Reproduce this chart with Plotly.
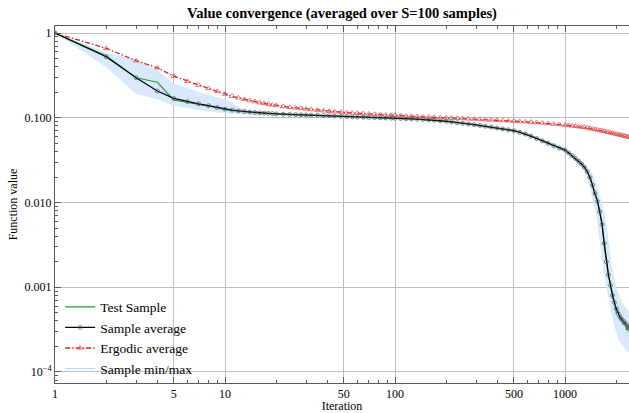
import plotly.graph_objects as go

# ---------------- data ----------------
iterations = [1, 2, 3, 4, 5, 6, 7, 8, 9, 10, 11, 12, 13, 14, 15, 16, 17, 18, 19, 20,
              22, 24, 26, 28, 30, 32, 35, 38, 41, 44, 48, 52, 56, 60, 65, 70, 76, 82, 88, 95,
              100, 108, 116, 125, 135, 146, 158, 170, 185, 200, 215, 232, 250, 270, 292, 316,
              340, 368, 398, 430, 464, 500, 540, 584, 630, 680, 735, 794, 857, 925, 1000,
              1050, 1100, 1150, 1200, 1250, 1300, 1350, 1400, 1450, 1500, 1550, 1600, 1650,
              1700, 1750, 1800, 1850, 1900, 1950, 2000, 2050, 2100, 2150, 2200, 2250, 2300,
              2350, 2400]

sample_average = [1.0, 0.525, 0.297, 0.207, 0.169, 0.155, 0.146, 0.139, 0.132, 0.126,
                  0.123, 0.1205, 0.1185, 0.117, 0.1155, 0.1145, 0.1135, 0.1125, 0.112, 0.111,
                  0.110, 0.1095, 0.109, 0.1085, 0.108, 0.1075, 0.107, 0.1065, 0.106, 0.105,
                  0.104, 0.103, 0.1025, 0.102, 0.1015, 0.101, 0.1005, 0.100, 0.0995, 0.099,
                  0.0985, 0.098, 0.0975, 0.097, 0.0962, 0.0955, 0.0945, 0.0935, 0.0922, 0.091,
                  0.0895, 0.0873, 0.086, 0.0845, 0.083, 0.0812, 0.0795, 0.0777, 0.0758, 0.0738,
                  0.072, 0.0703, 0.0675, 0.0642, 0.0607, 0.057, 0.0534, 0.050, 0.0467, 0.0438,
                  0.0416,
                  0.0385, 0.0357, 0.033, 0.0307, 0.0285, 0.026, 0.0232, 0.0197, 0.016, 0.0128,
                  0.0103, 0.0078, 0.0055, 0.0033, 0.0020, 0.0014, 0.00105, 0.0008, 0.00066,
                  0.00056, 0.00049, 0.00045, 0.00042, 0.0004, 0.00038, 0.00036, 0.00034, 0.00032]

test_sample = [1.0, 0.54, 0.297, 0.262, 0.162, 0.152, 0.144, 0.137, 0.131, 0.1245,
               0.1215, 0.119, 0.1175, 0.1162, 0.115, 0.114, 0.113, 0.1122, 0.1117, 0.1108,
               0.110, 0.1095, 0.109, 0.1085, 0.108, 0.1075, 0.107, 0.1065, 0.106, 0.105,
               0.104, 0.103, 0.1025, 0.102, 0.1015, 0.101, 0.1005, 0.100, 0.0995, 0.099,
               0.0985, 0.098, 0.0975, 0.097, 0.0962, 0.0955, 0.0945, 0.0935, 0.0922, 0.091,
               0.0895, 0.0873, 0.086, 0.0845, 0.083, 0.0812, 0.0795, 0.0777, 0.0758, 0.0738,
               0.072, 0.0703, 0.0675, 0.0642, 0.0607, 0.057, 0.0534, 0.050, 0.0467, 0.0438,
               0.0416,
               0.0385, 0.0357, 0.033, 0.0307, 0.0285, 0.026, 0.0232, 0.0197, 0.0165, 0.0125,
               0.0108, 0.0074, 0.0058, 0.0031, 0.0021, 0.00135, 0.0011, 0.00074, 0.0007,
               0.0005, 0.00052, 0.00041, 0.00044, 0.00036, 0.00039, 0.00031, 0.00034, 0.00028]

ergodic_average = [1.0, 0.66, 0.471, 0.389, 0.31, 0.27, 0.243, 0.222, 0.205, 0.19,
                   0.18, 0.172, 0.165, 0.16, 0.155, 0.151, 0.148, 0.145, 0.142, 0.14,
                   0.136, 0.133, 0.131, 0.129, 0.127, 0.125, 0.123, 0.121, 0.1195, 0.118,
                   0.1165, 0.115, 0.114, 0.113, 0.112, 0.111, 0.110, 0.1088, 0.1078, 0.107,
                   0.1065, 0.1058, 0.105, 0.1043, 0.1035, 0.1028, 0.102, 0.1012, 0.1005, 0.0998,
                   0.0992, 0.0986, 0.098, 0.0972, 0.0965, 0.0958, 0.095, 0.0943, 0.0935, 0.0928,
                   0.092, 0.0913, 0.0905, 0.0897, 0.0888, 0.0879, 0.0868, 0.0857, 0.0845, 0.0833,
                   0.082,
                   0.0812, 0.0804, 0.0796, 0.0788, 0.078, 0.0772, 0.0764, 0.0748, 0.0739, 0.073,
                   0.0721, 0.0712, 0.0703, 0.0694, 0.0685, 0.0676, 0.0667, 0.0659, 0.0651,
                   0.0643, 0.0636, 0.0629, 0.0622, 0.0615, 0.0608, 0.0602, 0.0596, 0.059]

band_iter = [1, 2, 3, 4, 5, 6, 7, 8, 9, 10, 11, 12, 13, 14,
             16, 18, 20, 25, 30, 40, 50, 70,
             100, 150, 200, 300, 400, 500, 600, 700, 800, 900, 1000,
             1100, 1200, 1300, 1400,
             1450, 1500, 1550, 1600, 1650, 1700, 1750, 1800, 1850, 1900, 1950, 2000,
             2100, 2200, 2300, 2400]

band_max = [1.0, 0.58, 0.48, 0.36, 0.25, 0.22, 0.20, 0.185, 0.172, 0.162, 0.148, 0.132, 0.124, 0.12,
            0.117, 0.1148, 0.1137, 0.1115, 0.1105, 0.1085, 0.1055, 0.1035,
            0.101, 0.0978, 0.0935, 0.085, 0.078, 0.0725, 0.0655, 0.058, 0.052, 0.047, 0.0437,
            0.0378, 0.0325, 0.0285, 0.0232,
            0.0215, 0.018, 0.0148, 0.012, 0.0096, 0.0073, 0.0051, 0.0033, 0.0021, 0.0015, 0.0012, 0.00095,
            0.00075, 0.00062, 0.00055, 0.0005]

band_min = [1.0, 0.40, 0.194, 0.166, 0.141, 0.131, 0.124, 0.119, 0.116, 0.114, 0.1125, 0.1115, 0.111, 0.1105,
            0.1095, 0.1085, 0.1078, 0.1065, 0.1055, 0.103, 0.1005, 0.0985,
            0.096, 0.0932, 0.0885, 0.08, 0.0733, 0.068, 0.0605, 0.0535, 0.0475, 0.0427, 0.0395,
            0.0337, 0.029, 0.0235, 0.0165,
            0.0113, 0.0087, 0.0062, 0.0037, 0.0022, 0.00145, 0.00105, 0.00075, 0.0006, 0.00045, 0.00035, 0.0003,
            0.00023, 0.0002, 0.00018, 0.00017]

x_tick_vals = [1, 5, 10, 50, 100, 500, 1000]
x_tick_text = ["1", "5", "10", "50", "100", "500", "1000"]
x_minor_vals = [2, 3, 4, 6, 7, 8, 9, 20, 30, 40, 60, 70, 80, 90,
                200, 300, 400, 600, 700, 800, 900, 2000]
y_tick_vals = [1, 0.1, 0.01, 0.001, 0.0001]
y_tick_text = ["1", "0.100", "0.010", "0.001", "10<sup>\u22124</sup>"]
y_minor_vals = [m * 10.0 ** e for e in (-5, -4, -3, -2, -1) for m in range(2, 10)]

# ---------------- styles ----------------
FONT = "Liberation Serif"
BAND = "rgb(216,233,252)"
BAND_EDGE = "rgb(205,226,250)"
RED = "rgb(205,40,40)"
GREEN = "rgb(40,150,60)"
GRID = "rgb(190,190,190)"
AXIS = "rgb(90,90,90)"

fig = go.Figure()

fig.add_trace(go.Scatter(x=band_iter, y=band_max, mode="lines",
                         line=dict(width=0.5, color=BAND_EDGE),
                         showlegend=False, hoverinfo="skip"))
fig.add_trace(go.Scatter(x=band_iter, y=band_min, mode="lines", fill="tonexty",
                         fillcolor=BAND, line=dict(width=0.5, color=BAND_EDGE),
                         showlegend=False, hoverinfo="skip"))

fig.add_trace(go.Scatter(x=iterations, y=ergodic_average, mode="lines+markers",
                         name="Ergodic average", legendrank=3,
                         line=dict(color=RED, width=1.3, dash="5px,2px,1.5px,2px"),
                         marker=dict(symbol="triangle-up-open", size=5,
                                     color="rgb(225,90,90)", line=dict(width=0.8))))

fig.add_trace(go.Scatter(x=iterations, y=test_sample, mode="lines",
                         name="Test Sample", legendrank=1,
                         line=dict(color=GREEN, width=1.1)))

fig.add_trace(go.Scatter(x=iterations, y=sample_average, mode="lines+markers",
                         name="Sample average", legendrank=2,
                         line=dict(color="black", width=1.3),
                         marker=dict(symbol="circle-open", size=4,
                                     color="rgb(95,105,110)", line=dict(width=0.8))))

# legend entry for the min/max band (thin pale line, as in the reference)
fig.add_trace(go.Scatter(x=band_iter[:1], y=band_max[:1], mode="lines",
                         name="Sample min/max", legendrank=4,
                         line=dict(color="rgb(190,215,245)", width=1),
                         hoverinfo="skip"))

fig.update_layout(
    width=629, height=413,
    margin=dict(l=55, r=0, t=26, b=30),
    paper_bgcolor="white", plot_bgcolor="white",
    font=dict(family=FONT, size=12, color="black"),
    title=dict(text="<b>Value convergence (averaged over S=100 samples)</b>",
               x=0.5, xref="paper", xanchor="center",
               y=1 - 13 / 413, yref="container", yanchor="middle",
               font=dict(family=FONT, size=14.5, color="black")),
    showlegend=True,
    legend=dict(x=0.009, y=0.256, xanchor="left", yanchor="top",
                traceorder="normal", itemclick=False, itemdoubleclick=False,
                bgcolor="rgba(0,0,0,0)", borderwidth=0,
                font=dict(family=FONT, size=13.5, color="black")),
    hovermode=False,
)

fig.update_xaxes(
    type="log", range=[0, 3.376],
    tickmode="array", tickvals=x_tick_vals, ticktext=x_tick_text,
    ticks="inside", ticklen=6, tickwidth=1, tickcolor=AXIS,
    showline=True, linecolor=AXIS, linewidth=1, mirror="ticks",
    showgrid=True, gridcolor=GRID, gridwidth=1,
    zeroline=False,
    tickfont=dict(family=FONT, size=12),
    title=dict(text="Iteration", font=dict(family=FONT, size=12), standoff=3),
    minor=dict(tickmode="array", tickvals=x_minor_vals, ticks="inside",
               ticklen=3, tickcolor=AXIS, showgrid=False),
)

fig.update_yaxes(
    type="log", range=[-4.13, 0.083],
    tickmode="array", tickvals=y_tick_vals, ticktext=y_tick_text,
    ticks="inside", ticklen=6, tickwidth=1, tickcolor=AXIS,
    showline=True, linecolor=AXIS, linewidth=1, mirror=False,
    showgrid=True, gridcolor=GRID, gridwidth=1,
    zeroline=False,
    tickfont=dict(family=FONT, size=12),
    title=dict(text="Function value", font=dict(family=FONT, size=12), standoff=4),
    minor=dict(tickmode="array", tickvals=y_minor_vals, ticks="inside",
               ticklen=3, tickcolor=AXIS, showgrid=False),
)

fig.write_html("out.html", config={"displayModeBar": False, "staticPlot": True},
               post_script="document.body.style.margin='0';document.body.style.overflow='hidden';")
